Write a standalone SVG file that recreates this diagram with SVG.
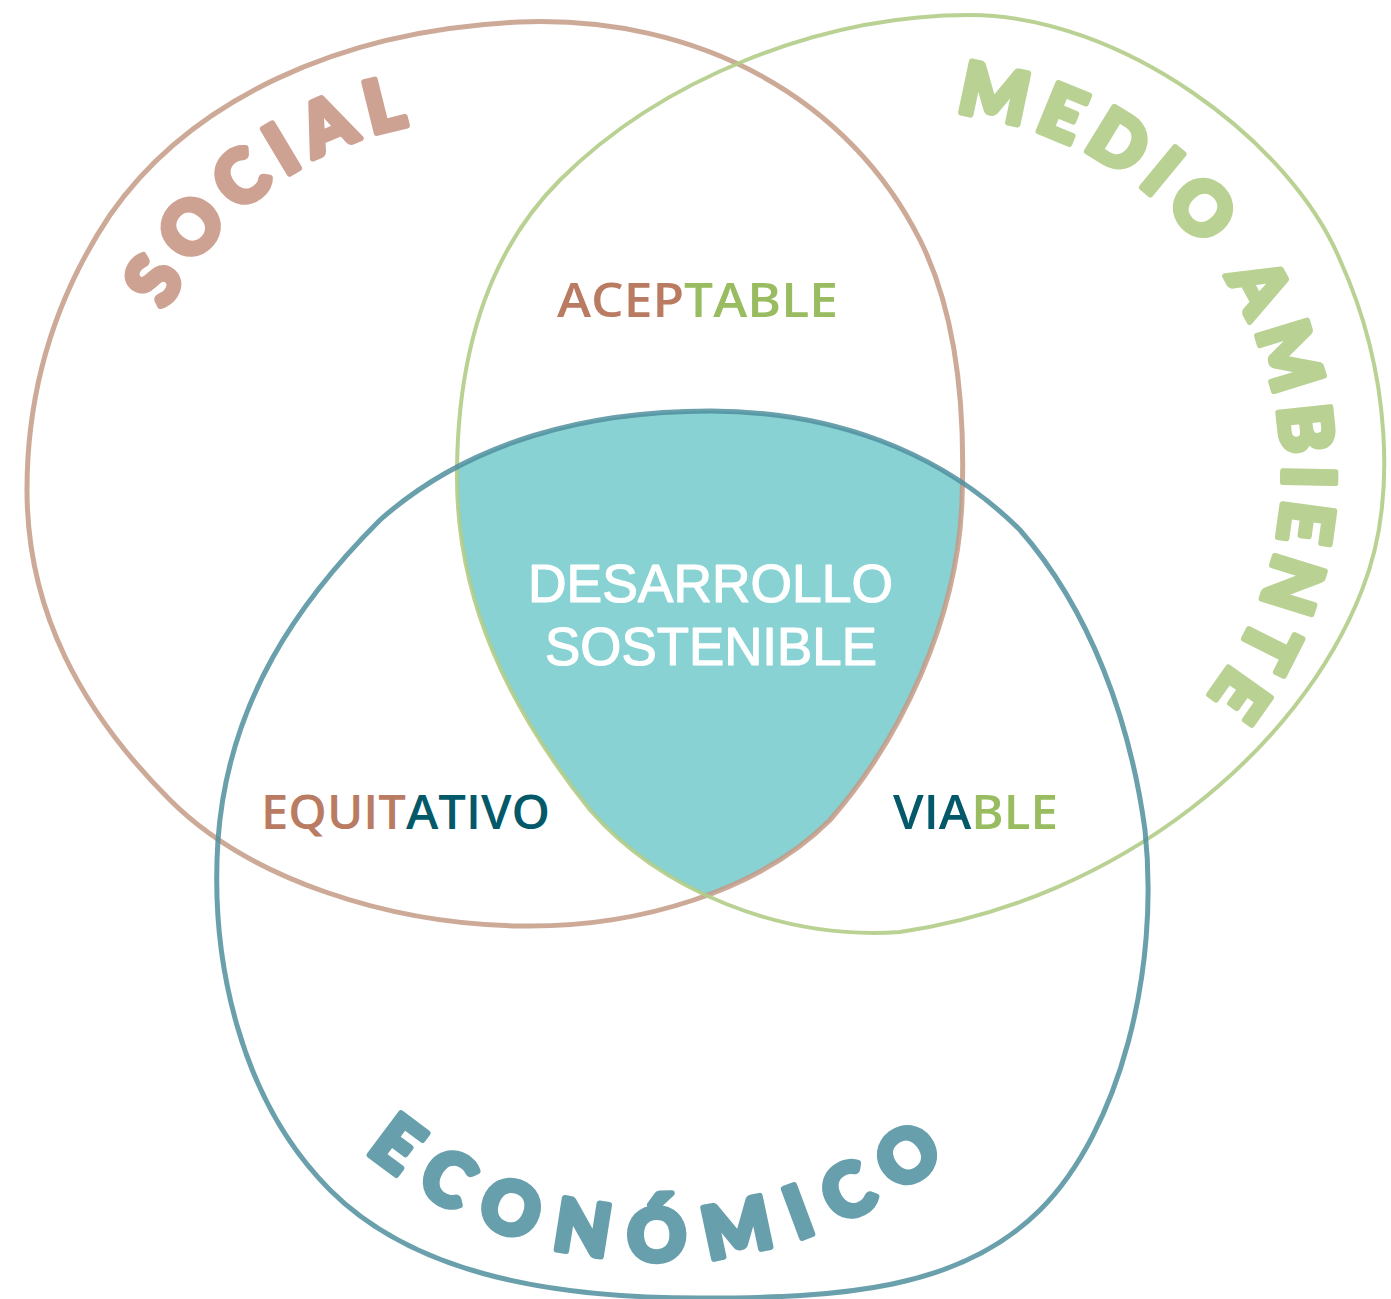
<svg xmlns="http://www.w3.org/2000/svg" width="1391" height="1299" viewBox="0 0 1391 1299">
<style>
.blob{fill:none;stroke-linejoin:round}
.social{stroke:#c49a86;stroke-width:5;opacity:0.85}
.medio{stroke:#b2cc88;stroke-width:4;opacity:0.9}
.econ{stroke:#4f8f9e;stroke-width:5;opacity:0.85}
.arc{font-family:Lato,Roboto,"DejaVu Sans",sans-serif;font-weight:900;font-size:72px;stroke-width:6;stroke-linejoin:round}
.lbl{font-family:"Open Sans","Liberation Sans",Arial,sans-serif;font-weight:600;font-size:47px}
.brown{fill:#b97b62}
.green{fill:#98bc5f}
.dteal{fill:#03596a}
.center{font-family:"Liberation Sans",Arial,sans-serif;font-size:53px;fill:#ffffff;stroke:#ffffff;stroke-width:1.2;stroke-linejoin:round}
</style>
<defs>
<path id="pSocial" d="M 27,490 C 27,380 60,290 110,215 C 190,100 340,30 520,22 C 700,15 850,100 920,240 C 960,320 965,420 962,500 C 958,620 900,740 830,820 C 760,890 640,928 520,926 C 390,924 250,880 170,800 C 80,710 27,610 27,490 Z"/>
<path id="pMedio" d="M 970,15 C 1120,15 1290,140 1340,260 C 1390,370 1398,500 1362,590 C 1300,750 1120,900 900,932 C 780,940 660,890 590,810 C 510,710 455,600 457,470 C 458,350 490,250 560,180 C 660,80 820,15 970,15 Z"/>
<path id="pEcon" d="M 710,411 C 830,411 940,450 1020,530 C 1090,610 1130,720 1145,830 C 1160,970 1120,1130 1040,1210 C 960,1290 840,1298 700,1298 C 540,1298 410,1270 330,1190 C 240,1100 210,960 218,840 C 228,700 300,600 380,520 C 470,440 590,411 710,411 Z"/>
<clipPath id="cSocial"><use href="#pSocial"/></clipPath>
<clipPath id="cMedio"><use href="#pMedio"/></clipPath>
<path id="tSocial" d="M 149.2,590.4 A 352,352 0 0 1 706.3,200.4"/>
<path id="tMedio" d="M 641.9,241.7 A 363,363 0 1 1 888.4,836.6"/>
<path id="tEcon" d="M 237,964 A 450,450 0 0 0 1083,964"/>
</defs>

<g id="centre-fill" clip-path="url(#cSocial)">
  <g clip-path="url(#cMedio)">
    <use href="#pEcon" fill="#88d2d3"/>
  </g>
</g>

<g id="connectors">
  <use id="social-outline" href="#pSocial" class="blob social"/>
  <use id="medio-outline" href="#pMedio" class="blob medio"/>
  <use id="econ-outline" href="#pEcon" class="blob econ"/>
</g>

<g id="social">
  <text class="arc" fill="#cda292" stroke="#cda292" letter-spacing="12"><textPath href="#tSocial" startOffset="49%" text-anchor="middle">SOCIAL</textPath></text>
</g>
<g id="medio-ambiente">
  <text class="arc" fill="#b9d192" stroke="#b9d192" letter-spacing="11"><textPath href="#tMedio" startOffset="50%" text-anchor="middle">MEDIO AMBIENTE</textPath></text>
</g>
<g id="economico">
  <text class="arc" fill="#679fac" stroke="#679fac" letter-spacing="22"><textPath href="#tEcon" startOffset="50.5%" text-anchor="middle">ECONÓMICO</textPath></text>
</g>

<g id="aceptable">
  <text class="lbl" x="557" y="317" textLength="281" lengthAdjust="spacingAndGlyphs"><tspan class="brown">ACEP</tspan><tspan class="green">TABLE</tspan></text>
</g>
<g id="equitativo">
  <text class="lbl" x="261" y="829" textLength="289" lengthAdjust="spacingAndGlyphs"><tspan class="brown">EQUIT</tspan><tspan class="dteal">ATIVO</tspan></text>
</g>
<g id="viable">
  <text class="lbl" x="893" y="829" textLength="165" lengthAdjust="spacingAndGlyphs"><tspan class="dteal">VIA</tspan><tspan class="green">BLE</tspan></text>
</g>
<g id="desarrollo-sostenible">
  <text class="center" x="528" y="602" textLength="365" lengthAdjust="spacingAndGlyphs">DESARROLLO</text>
  <text class="center" x="545" y="665" textLength="332" lengthAdjust="spacingAndGlyphs">SOSTENIBLE</text>
</g>
</svg>
